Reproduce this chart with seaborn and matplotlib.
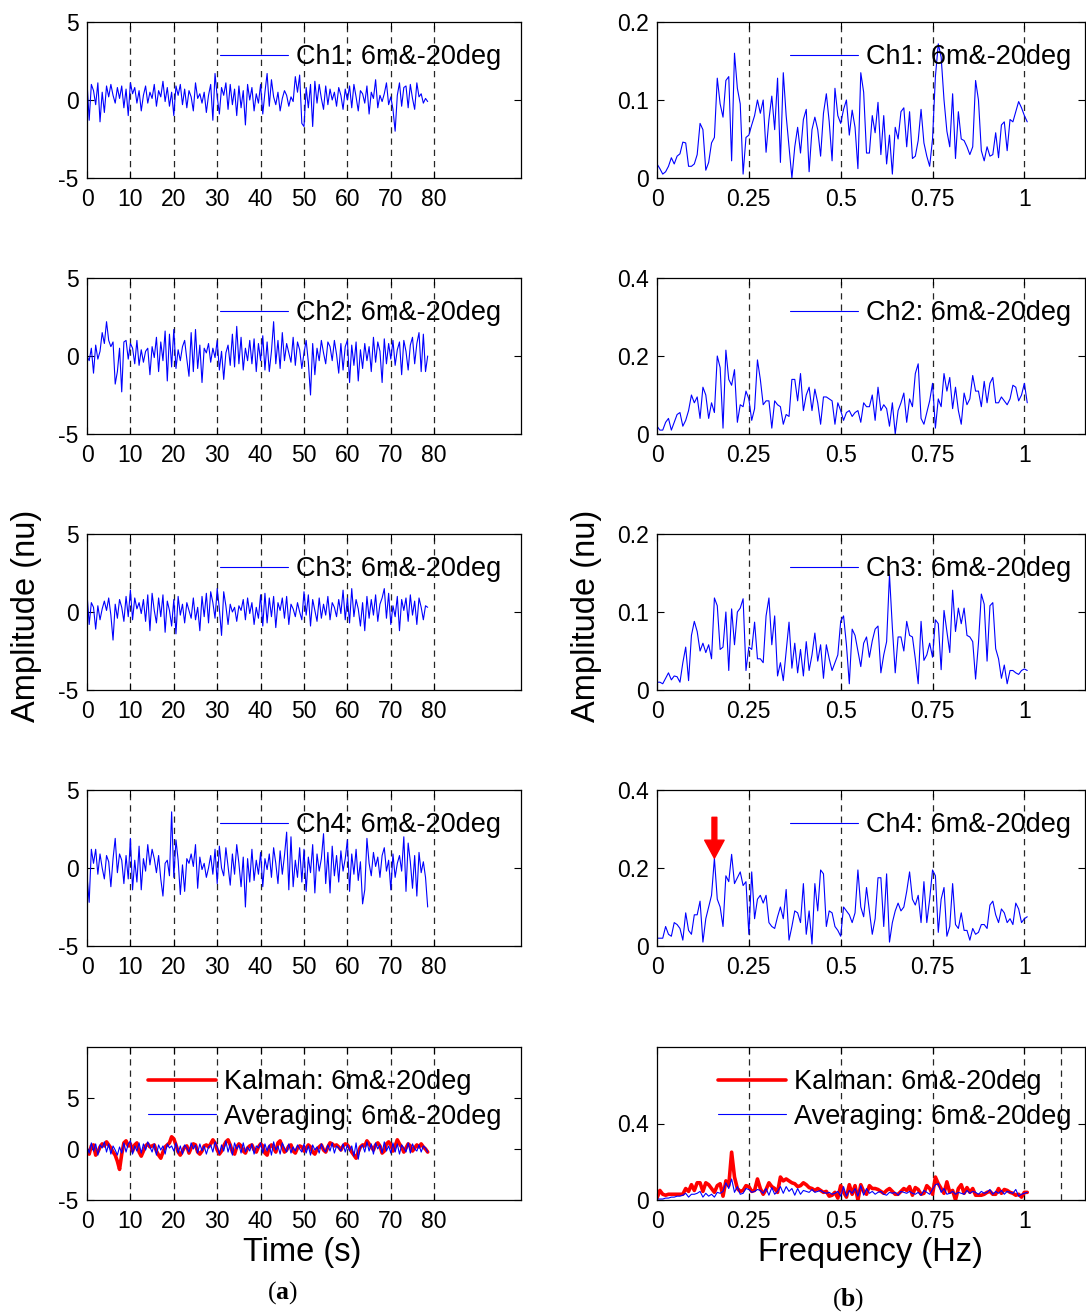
import numpy as np
import pandas as pd
import matplotlib
matplotlib.use("Agg")
import matplotlib.pyplot as plt
import seaborn as sns

# ---------------- data ----------------
dt = 0.5            # time-series sampling interval (s)
df_hz = 1.0 / 128   # spectrum bin spacing (Hz)

ch1_t = [1.2,-1.3,1.0,0.6,-0.3,1.1,-1.4,0.5,-0.8,0.9,0.2,1.0,0.3,-0.2,0.8,0.1,0.9,-0.5,0.7,-1.0,
         1.1,0.4,0.8,-0.2,0.6,-0.7,0.3,0.9,-0.2,0.5,0.1,1.0,-0.4,0.6,0.2,1.2,-0.1,0.8,-0.4,0.5,
         -1.0,0.9,0.3,1.0,-0.3,0.7,-0.5,0.6,0.2,-0.7,1.1,0.1,0.4,-0.2,0.5,-0.8,0.3,1.0,-1.3,1.7,
         0.2,-0.9,0.8,0.3,1.1,-0.6,1.0,-0.3,0.7,-1.0,0.9,-0.5,0.6,-1.6,1.0,0.0,0.8,-0.7,0.4,-0.2,
         1.0,-0.9,0.5,1.7,-0.4,1.3,0.2,-0.3,0.5,-0.7,0.1,0.6,0.3,-0.4,0.2,-0.1,1.5,0.5,1.6,-1.5,
         -1.7,0.8,-0.5,1.0,-1.7,1.2,-0.2,1.0,0.1,-0.6,0.9,-0.3,0.7,0.0,0.5,-0.4,0.8,0.3,-0.6,0.7,
         0.0,0.9,-0.5,1.0,0.2,-0.7,0.6,0.4,-0.2,0.9,-0.9,0.5,0.1,1.3,-0.5,0.3,-0.1,0.4,1.1,-0.3,
         0.2,-0.6,-2.0,0.3,1.1,-0.4,0.8,0.9,-0.5,1.0,0.1,-0.6,1.1,0.2,0.4,-0.2,0.1,-0.1]
ch2_t = [0.0,-0.3,0.5,-1.1,0.7,-0.2,0.3,1.5,0.8,2.2,1.0,0.6,0.9,-1.8,-1.0,0.5,-2.3,0.9,1.0,-0.2,
         0.8,0.5,-0.5,1.0,-0.6,0.4,-0.4,0.3,0.5,-1.2,0.6,-0.1,1.2,-1.0,0.9,-0.3,1.6,-1.6,1.4,-0.7,
         1.7,-0.8,0.4,-0.3,0.6,1.0,-0.2,-1.3,1.5,-1.0,1.7,-0.8,0.7,-1.7,0.5,0.2,0.8,-0.4,0.5,-0.1,
         1.0,-0.9,0.3,-1.5,0.2,0.7,-0.6,1.4,-0.7,1.9,-0.5,1.2,-0.9,0.5,-0.3,1.0,-0.5,1.1,-1.0,0.8,
         -0.3,1.3,-0.9,0.9,-1.0,0.3,2.2,-0.5,1.0,-0.8,1.5,-0.3,0.8,0.2,-0.4,1.2,-0.6,0.9,0.4,-0.8,
         0.2,1.0,-0.4,-2.5,0.8,-1.2,0.5,-0.3,1.0,0.2,-0.5,0.9,0.6,-0.3,1.0,0.1,-1.1,0.8,-0.9,0.6,
         1.0,-1.7,0.7,-0.6,0.9,-1.6,0.4,-0.8,0.8,-0.3,0.6,-1.0,1.2,-0.4,0.9,0.3,-1.7,1.1,-0.5,0.8,
         -0.2,1.0,-0.6,0.4,0.9,-1.2,1.0,0.3,-0.9,0.7,1.2,-0.5,0.8,1.5,-1.0,1.4,-1.0,0.0]
ch3_t = [1.2,-0.8,0.6,0.3,-1.1,0.4,-0.5,0.2,0.7,0.1,0.9,-0.2,-1.8,0.5,-0.4,0.8,0.3,-0.6,1.0,-0.3,
         1.4,-0.5,0.9,0.2,0.6,-0.1,0.8,-0.6,1.1,-1.2,1.2,0.1,-0.7,0.9,-0.3,1.1,-1.3,0.7,0.1,-0.9,
         0.8,-1.4,1.0,-0.2,0.5,-0.7,0.6,0.1,-0.4,0.9,-0.5,0.3,-1.2,1.0,-0.3,1.2,-0.7,1.3,0.6,-0.4,
         1.5,0.2,-1.5,1.3,0.4,-0.8,0.5,0.0,0.3,-0.6,0.4,0.1,0.8,-0.5,0.9,-0.1,0.6,-0.8,0.3,-0.4,
         1.1,-0.9,1.2,-0.7,0.9,-0.3,1.0,-1.0,0.6,0.1,0.9,-0.4,1.0,-0.8,0.5,0.2,-0.3,0.6,0.0,-0.5,
         1.3,-0.2,1.1,-0.9,0.8,0.1,-0.6,0.9,-0.4,0.5,-0.2,1.0,-0.5,0.6,0.3,-0.3,0.8,-0.1,1.4,-0.5,
         0.9,-0.7,1.5,-0.3,0.8,0.2,-0.9,0.6,-1.2,1.0,-0.4,0.8,-0.2,1.1,-0.6,0.5,0.9,1.5,-0.4,1.2,
         -0.8,0.4,-0.3,1.0,-1.2,0.8,0.1,0.9,-0.6,1.1,-0.2,0.7,-0.8,0.9,0.3,-0.5,0.4,0.3]
ch4_t = [-0.5,-2.2,1.2,0.3,1.2,-0.4,0.9,0.0,-0.7,0.8,0.4,-1.2,0.6,1.9,-0.3,0.9,0.5,-1.0,0.8,-0.7,
         1.9,-1.4,0.5,-0.9,1.4,-1.4,0.6,-0.2,1.5,0.2,1.2,0.6,-0.3,0.8,-0.7,-1.8,0.3,0.5,-0.5,3.6,
         -0.6,1.8,0.5,-1.7,0.2,-1.5,0.6,0.3,0.9,0.1,1.5,-1.3,0.7,-0.1,0.3,-0.6,0.0,0.8,-0.4,1.2,
         -1.0,1.4,0.0,-0.5,1.3,0.1,-1.1,0.9,-0.4,1.5,0.3,-1.2,0.7,-2.5,0.6,-0.9,1.2,-0.8,0.5,-0.4,
         1.0,-1.2,0.6,-0.1,0.9,-0.6,1.3,0.3,-1.0,1.1,-0.4,0.8,2.3,-1.4,2.0,-1.2,0.5,-0.6,1.3,-0.9,
         1.2,-1.5,0.7,-0.3,1.5,-1.6,0.9,-0.2,0.6,2.2,-1.0,1.0,-1.6,1.4,-0.5,0.8,-0.9,1.1,-0.2,0.6,
         1.8,-1.5,0.9,-0.4,1.2,-0.8,0.4,-2.3,-1.4,1.9,0.3,-0.5,1.0,0.1,0.7,-0.6,0.8,1.3,-0.2,0.5,
         -1.4,0.9,-0.6,0.3,0.8,-0.2,2.0,-1.5,1.6,0.4,-1.3,0.8,-1.8,1.0,-0.3,0.4,-0.6,-2.5]
kalman_t = [-0.2,-0.5,0.3,0.4,-0.6,-0.3,0.2,0.5,0.3,0.7,0.4,0.1,-0.3,-0.6,-1.2,-2.0,-0.5,0.6,0.8,0.3,
            0.5,-0.2,0.4,0.6,-0.3,-0.7,-0.2,0.3,0.5,0.2,0.3,0.4,-0.2,-0.6,-0.9,-0.3,0.2,0.4,0.6,1.2,
            1.0,0.4,-0.3,-0.6,-0.2,0.2,0.3,-0.4,0.1,0.5,0.4,-0.3,-0.5,-0.2,0.3,0.4,0.2,0.5,0.9,0.6,
            -0.1,-0.5,-0.2,0.3,0.7,0.9,0.4,-0.3,-0.5,0.2,0.5,0.3,-0.2,-0.4,0.1,0.3,0.4,-0.1,-0.3,0.2,
            0.5,0.3,-0.4,-0.6,0.2,0.4,0.1,-0.3,0.6,0.8,0.2,-0.3,-0.1,0.3,0.4,-0.2,-0.4,0.1,0.3,0.2,
            -0.2,0.1,0.4,0.2,-0.3,-0.5,0.0,0.2,0.4,-0.1,-0.3,0.2,0.6,0.5,0.3,0.4,0.2,-0.1,0.3,0.5,
            0.4,0.1,-0.3,-0.6,-0.9,-0.3,0.2,0.4,0.3,0.8,0.5,0.2,-0.1,0.4,0.6,0.3,-0.4,-0.2,0.5,0.7,
            0.4,-0.2,0.3,0.9,0.5,0.2,-0.3,0.1,0.5,0.3,-0.2,0.1,0.4,0.2,0.5,0.2,0.0,-0.3]
avg_t = [0.3,-0.4,0.6,-0.2,0.5,-0.6,0.4,0.1,0.7,-0.3,0.5,-0.5,0.3,-0.1,-0.6,0.2,-0.4,0.6,-0.3,0.5,
         0.8,-0.5,0.3,-0.2,0.6,-0.4,0.5,-0.1,0.7,0.2,-0.3,0.5,-0.6,0.4,-0.1,0.3,-0.5,0.5,0.1,0.3,
         -0.2,0.6,-0.4,0.3,-0.5,0.4,0.1,-0.3,0.6,0.0,0.4,-0.4,0.5,-0.2,0.3,-0.5,0.2,0.4,-0.3,0.7,
         0.2,-0.5,0.4,-0.2,0.8,-0.3,0.5,-0.6,0.6,0.0,0.4,-0.4,0.6,-0.3,0.2,-0.2,0.5,-0.5,0.3,0.1,
         0.6,-0.4,0.5,-0.2,0.4,-0.6,0.7,-0.1,0.3,-0.5,0.6,0.1,-0.3,0.5,-0.4,0.2,-0.2,0.4,0.0,-0.3,
         0.5,-0.4,0.3,-0.6,0.4,-0.1,0.2,-0.4,0.5,0.0,-0.3,0.4,-0.2,0.6,-0.4,0.3,0.1,-0.2,0.5,-0.3,
         0.4,-0.2,0.3,-0.7,0.6,-1.0,0.2,0.4,-0.3,0.7,-0.2,0.5,-0.5,0.6,0.0,0.4,-0.4,0.7,-0.2,0.3,
         -0.4,0.6,-0.3,0.5,-0.5,0.4,0.1,-0.3,0.6,-0.4,0.5,0.0,-0.2,0.4,-0.3,0.3,0.1,-0.3]

ch1_f = [0.018,0.012,0.005,0.008,0.015,0.026,0.018,0.028,
         0.031,0.046,0.045,0.015,0.015,0.018,0.030,0.070,
         0.062,0.010,0.020,0.045,0.052,0.128,0.095,0.078,
         0.125,0.130,0.022,0.160,0.115,0.095,0.005,0.052,
         0.055,0.068,0.080,0.100,0.083,0.100,0.033,0.075,
         0.105,0.062,0.128,0.020,0.135,0.080,0.040,0.000,
         0.040,0.065,0.032,0.075,0.088,0.008,0.062,0.078,
         0.062,0.028,0.083,0.108,0.072,0.022,0.115,0.080,
         0.070,0.088,0.100,0.055,0.087,0.065,0.012,0.135,
         0.110,0.032,0.032,0.080,0.058,0.097,0.030,0.080,
         0.018,0.055,0.005,0.065,0.050,0.085,0.090,0.040,
         0.085,0.025,0.028,0.048,0.088,0.045,0.028,0.015,
         0.050,0.130,0.172,0.155,0.100,0.060,0.040,0.108,
         0.025,0.085,0.050,0.048,0.040,0.030,0.040,0.125,
         0.100,0.035,0.022,0.040,0.028,0.030,0.058,0.026,
         0.068,0.072,0.035,0.075,0.072,0.085,0.098,0.090,0.080,0.072]
ch2_f = [0.02,0.01,0.01,0.03,0.04,0.01,0.03,0.05,
         0.055,0.02,0.035,0.06,0.10,0.08,0.095,0.04,
         0.12,0.10,0.04,0.08,0.055,0.20,0.17,0.015,
         0.215,0.14,0.125,0.165,0.03,0.075,0.07,0.11,
         0.09,0.035,0.065,0.19,0.14,0.075,0.085,0.085,
         0.015,0.085,0.075,0.07,0.025,0.05,0.045,0.14,
         0.14,0.085,0.155,0.06,0.10,0.12,0.06,0.115,
         0.08,0.025,0.095,0.095,0.09,0.085,0.025,0.08,
         0.06,0.035,0.055,0.06,0.045,0.055,0.06,0.03,
         0.08,0.07,0.07,0.10,0.035,0.12,0.06,0.075,
         0.065,0.02,0.08,0.0,0.06,0.08,0.105,0.03,
         0.09,0.07,0.155,0.18,0.04,0.025,0.055,0.085,
         0.13,0.015,0.09,0.07,0.155,0.11,0.145,0.065,
         0.12,0.06,0.025,0.105,0.075,0.09,0.15,0.11,
         0.11,0.07,0.135,0.08,0.13,0.145,0.08,0.08,
         0.095,0.085,0.075,0.09,0.125,0.12,0.085,0.10,0.13,0.08]
ch3_f = [0.010,0.010,0.008,0.015,0.022,0.013,0.018,0.017,
         0.010,0.035,0.055,0.012,0.070,0.088,0.075,0.050,
         0.060,0.048,0.058,0.040,0.118,0.108,0.052,0.055,
         0.100,0.025,0.104,0.058,0.100,0.105,0.117,0.025,
         0.055,0.052,0.087,0.040,0.040,0.035,0.095,0.118,
         0.058,0.095,0.018,0.035,0.012,0.050,0.087,0.028,
         0.060,0.022,0.052,0.018,0.062,0.025,0.045,0.073,
         0.037,0.058,0.015,0.058,0.040,0.025,0.035,0.045,
         0.088,0.095,0.058,0.008,0.078,0.070,0.050,0.030,
         0.060,0.068,0.042,0.063,0.078,0.082,0.022,0.045,
         0.062,0.148,0.080,0.022,0.068,0.068,0.050,0.088,
         0.070,0.068,0.040,0.008,0.088,0.038,0.045,0.060,
         0.042,0.090,0.085,0.026,0.102,0.075,0.048,0.128,
         0.075,0.105,0.085,0.105,0.070,0.068,0.062,0.014,
         0.060,0.123,0.110,0.037,0.108,0.112,0.053,0.040,
         0.015,0.032,0.008,0.025,0.025,0.022,0.020,0.025,0.027,0.025]
ch4_f = [0.02,0.02,0.02,0.05,0.03,0.025,0.06,0.055,
         0.045,0.015,0.085,0.04,0.03,0.08,0.08,0.115,
         0.01,0.07,0.10,0.13,0.225,0.12,0.10,0.05,
         0.18,0.165,0.235,0.16,0.175,0.19,0.155,0.165,
         0.03,0.19,0.07,0.12,0.13,0.11,0.13,0.06,
         0.05,0.045,0.075,0.10,0.07,0.145,0.015,0.05,
         0.09,0.085,0.06,0.16,0.03,0.09,0.005,0.16,
         0.09,0.195,0.185,0.05,0.09,0.085,0.05,0.04,
         0.025,0.10,0.09,0.08,0.06,0.085,0.195,0.10,
         0.075,0.15,0.09,0.03,0.07,0.175,0.175,0.05,
         0.185,0.01,0.06,0.09,0.11,0.09,0.10,0.14,
         0.19,0.12,0.105,0.13,0.06,0.165,0.06,0.12,
         0.195,0.18,0.035,0.12,0.15,0.025,0.05,0.16,
         0.055,0.045,0.085,0.04,0.04,0.015,0.045,0.03,
         0.035,0.055,0.055,0.045,0.105,0.115,0.08,0.06,
         0.095,0.085,0.06,0.07,0.055,0.11,0.095,0.06,0.07,0.075]
kalman_f = [0.01,0.05,0.03,0.025,0.03,0.03,0.03,0.03,
            0.03,0.03,0.06,0.045,0.08,0.05,0.09,0.09,
            0.045,0.09,0.08,0.06,0.04,0.075,0.085,0.02,
            0.10,0.075,0.25,0.12,0.06,0.045,0.05,0.075,
            0.07,0.045,0.05,0.11,0.06,0.03,0.055,0.09,
            0.07,0.06,0.04,0.12,0.10,0.11,0.10,0.09,
            0.085,0.07,0.075,0.09,0.08,0.065,0.06,0.05,
            0.06,0.05,0.04,0.045,0.02,0.025,0.04,0.01,
            0.075,0.04,0.015,0.08,0.03,0.075,0.00,0.08,
            0.045,0.03,0.075,0.06,0.06,0.055,0.045,0.035,
            0.05,0.06,0.045,0.03,0.03,0.045,0.06,0.05,
            0.07,0.025,0.065,0.055,0.03,0.035,0.075,0.06,
            0.03,0.12,0.085,0.06,0.035,0.095,0.04,0.05,
            0.00,0.06,0.08,0.035,0.065,0.04,0.06,0.025,
            0.025,0.025,0.03,0.04,0.045,0.03,0.03,0.06,
            0.035,0.055,0.05,0.04,0.035,0.025,0.03,0.015,0.04,0.04]
avg_f = [0.005,0.005,0.005,0.01,0.01,0.015,0.015,0.02,
         0.02,0.025,0.035,0.015,0.03,0.03,0.035,0.045,
         0.015,0.035,0.02,0.03,0.015,0.04,0.035,0.045,
         0.09,0.06,0.11,0.04,0.07,0.03,0.035,0.06,
         0.055,0.04,0.045,0.055,0.05,0.035,0.06,0.025,
         0.065,0.03,0.045,0.07,0.035,0.07,0.045,0.06,
         0.025,0.06,0.03,0.05,0.045,0.04,0.055,0.04,
         0.045,0.05,0.04,0.035,0.04,0.03,0.035,0.045,
         0.02,0.07,0.02,0.05,0.035,0.06,0.02,0.075,
         0.025,0.06,0.035,0.045,0.03,0.04,0.045,0.03,
         0.025,0.04,0.035,0.04,0.025,0.045,0.04,0.035,
         0.045,0.035,0.03,0.04,0.025,0.05,0.04,0.03,
         0.055,0.08,0.085,0.04,0.06,0.03,0.035,0.045,
         0.03,0.04,0.035,0.03,0.05,0.035,0.045,0.04,
         0.03,0.045,0.035,0.04,0.055,0.03,0.045,0.035,
         0.05,0.03,0.045,0.04,0.035,0.055,0.02,0.03,0.035,0.04]

channel_labels = ["Ch1: 6m&-20deg", "Ch2: 6m&-20deg", "Ch3: 6m&-20deg", "Ch4: 6m&-20deg"]
kalman_label = "Kalman: 6m&-20deg"
avg_label = "Averaging: 6m&-20deg"

time_ticks = [0, 10, 20, 30, 40, 50, 60, 70, 80]
time_ticklabels = ["0", "10", "20", "30", "40", "50", "60", "70", "80"]
freq_ticks = [0, 0.25, 0.5, 0.75, 1]
freq_ticklabels = ["0", "0.25", "0.5", "0.75", "1"]
spec_ylims = [0.2, 0.4, 0.2, 0.4]
spec_yticks = [[0, 0.1, 0.2], [0, 0.2, 0.4], [0, 0.1, 0.2], [0, 0.2, 0.4]]
spec_yticklabels = [["0", "0.1", "0.2"], ["0", "0.2", "0.4"], ["0", "0.1", "0.2"], ["0", "0.2", "0.4"]]

t = np.arange(len(ch1_t)) * dt
f = np.arange(len(ch1_f)) * df_hz

# ---------------- style ----------------
sns.set_theme(style="white")
plt.rcParams["font.family"] = ["Liberation Sans", "DejaVu Sans"]
plt.rcParams["axes.unicode_minus"] = False
plt.rcParams["mathtext.fontset"] = "custom"
plt.rcParams["mathtext.rm"] = "Liberation Serif"
plt.rcParams["mathtext.bf"] = "Liberation Serif:bold"
plt.rcParams["text.color"] = "black"
plt.rcParams["axes.labelcolor"] = "black"
plt.rcParams["xtick.color"] = "black"
plt.rcParams["ytick.color"] = "black"

BLUE = "#0000FF"
RED = "#FF0000"
TICK_FS = 16.5
LEG_FS = 19.5
LAB_FS = 23.5

W, H = 1086, 1313
fig = plt.figure(figsize=(W / 100, H / 100), dpi=100)

rows_px = [(22, 178), (278, 434), (534, 690), (790, 946), (1047, 1200)]
left_px = (87, 521)
right_px = (657, 1085)


def make_ax(xpx, ypx):
    x0, x1 = xpx
    y0, y1 = ypx
    return fig.add_axes([x0 / W, 1 - y1 / H, (x1 - x0) / W, (y1 - y0) / H])


def style_ax(ax):
    for s in ax.spines.values():
        s.set_visible(True)
        s.set_color("black")
        s.set_linewidth(0.9)
    ax.tick_params(direction="in", length=5, width=0.8, top=True, right=True,
                   bottom=True, left=True, labelsize=TICK_FS, colors="black")
    ax.tick_params(axis="x", pad=7)
    ax.tick_params(axis="y", pad=6)
    ax.set_xlabel("")
    ax.set_ylabel("")


def vgrid(ax, xs):
    for x in xs:
        ax.axvline(x, color="0.15", lw=0.9, ls=(0, (5, 4)), zorder=0)


def place_legend(ax, x, y, spacing=0.35):
    leg = ax.legend(loc="center left", bbox_to_anchor=(x, y), frameon=False,
                    fontsize=LEG_FS, handlelength=2.5, handletextpad=0.3,
                    borderpad=0, borderaxespad=0, labelspacing=spacing)
    for txt in leg.get_texts():
        txt.set_color("black")
    return leg


time_series = [ch1_t, ch2_t, ch3_t, ch4_t]
spectra = [ch1_f, ch2_f, ch3_f, ch4_f]

for i in range(4):
    # time domain
    ax = make_ax(left_px, rows_px[i])
    sns.lineplot(x=t, y=np.array(time_series[i]), ax=ax, color=BLUE, lw=0.8,
                 estimator=None, sort=False, label=channel_labels[i])
    ax.set_xlim(0, 100)
    ax.set_ylim(-5, 5)
    ax.set_xticks(time_ticks)
    ax.set_xticklabels(time_ticklabels)
    ax.set_yticks([-5, 0, 5])
    ax.set_yticklabels(["-5", "0", "5"])
    vgrid(ax, time_ticks[1:])
    style_ax(ax)
    place_legend(ax, (220 - 87) / (521 - 87), 1 - 35 / 156)

    # frequency domain
    ax = make_ax(right_px, rows_px[i])
    sns.lineplot(x=f, y=np.array(spectra[i]), ax=ax, color=BLUE, lw=0.8,
                 estimator=None, sort=False, label=channel_labels[i])
    ax.set_xlim(0, 1.165)
    ax.set_ylim(0, spec_ylims[i])
    ax.set_xticks(freq_ticks)
    ax.set_xticklabels(freq_ticklabels)
    ax.set_yticks(spec_yticks[i])
    ax.set_yticklabels(spec_yticklabels[i])
    vgrid(ax, freq_ticks[1:])
    style_ax(ax)
    place_legend(ax, (790 - 657) / (1085 - 657), 1 - 35 / 156)
    if i == 3:
        k = int(np.argmax(np.array(ch4_f[:24])))
        ax.annotate("", xy=(f[k], ch4_f[k]), xytext=(f[k], 0.33),
                    arrowprops=dict(facecolor=RED, edgecolor=RED, width=3.5,
                                    headwidth=14, headlength=13, shrink=0))

# bottom-left: fused time series
ax = make_ax(left_px, rows_px[4])
sns.lineplot(x=t, y=np.array(kalman_t), ax=ax, color=RED, lw=2.6,
             estimator=None, sort=False, label=kalman_label)
sns.lineplot(x=t, y=np.array(avg_t), ax=ax, color=BLUE, lw=0.8,
             estimator=None, sort=False, label=avg_label)
ax.set_xlim(0, 100)
ax.set_ylim(-5, 10)
ax.set_xticks(time_ticks)
ax.set_xticklabels(time_ticklabels)
ax.set_yticks([-5, 0, 5])
ax.set_yticklabels(["-5", "0", "5"])
vgrid(ax, time_ticks[1:])
style_ax(ax)
place_legend(ax, (148 - 87) / (521 - 87), 1 - 52.5 / 153, spacing=0.3)

# bottom-right: fused spectra
ax = make_ax(right_px, rows_px[4])
sns.lineplot(x=f, y=np.array(kalman_f), ax=ax, color=RED, lw=2.6,
             estimator=None, sort=False, label=kalman_label)
sns.lineplot(x=f, y=np.array(avg_f), ax=ax, color=BLUE, lw=0.8,
             estimator=None, sort=False, label=avg_label)
ax.set_xlim(0, 1.165)
ax.set_ylim(0, 0.8)
ax.set_xticks(freq_ticks)
ax.set_xticklabels(freq_ticklabels)
ax.set_yticks([0, 0.4])
ax.set_yticklabels(["0", "0.4"])
vgrid(ax, freq_ticks[1:] + [1.1])
style_ax(ax)
place_legend(ax, (718 - 657) / (1085 - 657), 1 - 52.5 / 153, spacing=0.3)

# figure labels
fig.text(27 / W, 1 - 616 / H, "Amplitude (nu)", rotation=90, ha="center", va="center", fontsize=LAB_FS)
fig.text(587 / W, 1 - 616 / H, "Amplitude (nu)", rotation=90, ha="center", va="center", fontsize=LAB_FS)
fig.text(302 / W, 1 - 1253 / H, "Time (s)", ha="center", va="center", fontsize=LAB_FS)
fig.text(871 / W, 1 - 1253 / H, "Frequency (Hz)", ha="center", va="center", fontsize=LAB_FS)
fig.text(282 / W, 1 - 1293 / H, r"($\mathbf{a}$)", ha="center", va="center", fontsize=18.5,
         family="Liberation Serif")
fig.text(848 / W, 1 - 1300 / H, r"($\mathbf{b}$)", ha="center", va="center", fontsize=18.5,
         family="Liberation Serif")

fig.savefig("out.png", dpi=100)
